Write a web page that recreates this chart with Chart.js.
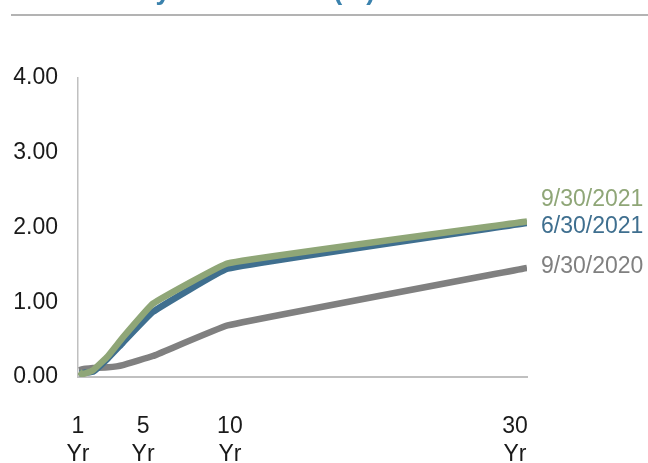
<!DOCTYPE html>
<html>
<head>
<meta charset="utf-8">
<script src="https://cdn.jsdelivr.net/npm/chart.js@4.4.0/dist/chart.umd.min.js"></script>
<style>
  body { margin: 0; background: #fff; }
  #wrap { position: relative; width: 648px; height: 463px; }
</style>
</head>
<body>
<div id="wrap"><canvas id="curveChart" width="648" height="463"></canvas></div>
<script>
// maturities in years (1m, 3m, 6m, 1y, 2y, 3y, 5y, 10y, 30y)
const maturities = [1 / 12, 0.25, 0.5, 1, 2, 3, 5, 10, 30];
const yields_2021_09 = [0.07, 0.04, 0.05, 0.09, 0.28, 0.53, 0.98, 1.52, 2.08];
const yields_2021_06 = [0.05, 0.05, 0.06, 0.07, 0.25, 0.46, 0.87, 1.45, 2.06];
const yields_2020_09 = [0.09, 0.10, 0.11, 0.12, 0.13, 0.16, 0.28, 0.69, 1.46];
const seriesNames = ['9/30/2021', '6/30/2021', '9/30/2020'];

// x labels as they sit under the axis
const xTickPositions = [0, 4.35, 10.15, 29.2];
const xTickLabels = [['1', 'Yr'], ['5', 'Yr'], ['10', 'Yr'], ['30', 'Yr']];
const yTicks = [0, 1, 2, 3, 4];

const titleText = 'Treasury Yield Curve (%)';
const FONT = "'Liberation Sans', Arial, sans-serif";

function toPoints(vals) {
    return maturities.map((m, i) => ({ x: m, y: vals[i] }));
}

// title (mostly cut off at the top) and the rule under it
const headerPlugin = {
    id: 'header',
    afterDraw(chart) {
        const ctx = chart.ctx;
        ctx.save();
        ctx.fillStyle = '#3b82ad';
        ctx.font = 'bold 27px ' + FONT;
        ctx.textBaseline = 'alphabetic';
        ctx.fillText(titleText, 58, -1);
        ctx.strokeStyle = '#b3b3b3';
        ctx.lineWidth = 2;
        ctx.beginPath();
        ctx.moveTo(11, 15);
        ctx.lineTo(648, 15);
        ctx.stroke();
        ctx.restore();
    }
};

// series names at the right end of each line
const endLabels = {
    id: 'endLabels',
    afterDatasetsDraw(chart) {
        const ctx = chart.ctx;
        ctx.save();
        ctx.font = '23px ' + FONT;
        ctx.textBaseline = 'middle';
        chart.data.datasets.forEach((ds, i) => {
            const meta = chart.getDatasetMeta(i);
            const last = meta.data[meta.data.length - 1];
            ctx.fillStyle = ds.borderColor;
            ctx.fillText(ds.label, chart.chartArea.right + 14, last.y + ds.labelShift);
        });
        ctx.restore();
    }
};

const ctx = document.getElementById('curveChart').getContext('2d');
new Chart(ctx, {
    type: 'line',
    data: {
        datasets: [
            { label: seriesNames[0], data: toPoints(yields_2021_09), borderColor: '#8fa677', labelShift: -22 },
            { label: seriesNames[1], data: toPoints(yields_2021_06), borderColor: '#3f6f8f', labelShift: 4 },
            { label: seriesNames[2], data: toPoints(yields_2020_09), borderColor: '#808080', labelShift: -1 }
        ].map(d => Object.assign(d, {
            borderWidth: 6.5,
            pointRadius: 0,
            tension: 0.08,
            fill: false,
            borderCapStyle: 'butt',
            borderJoinStyle: 'round'
        }))
    },
    options: {
        responsive: false,
        animation: false,
        layout: { padding: { top: 78, right: 121, left: 0, bottom: 0 } },
        plugins: {
            legend: { display: false },
            tooltip: { enabled: false }
        },
        scales: {
            x: {
                type: 'linear',
                min: 0,
                max: 30,
                afterBuildTicks: scale => { scale.ticks = xTickPositions.map(v => ({ value: v })); },
                afterFit: scale => { scale.height = 86; },
                ticks: {
                    autoSkip: false,
                    maxRotation: 0,
                    padding: 35,
                    color: '#1a1a1a',
                    font: { family: FONT, size: 23, lineHeight: 1.25 },
                    callback: (v, i) => xTickLabels[i]
                },
                grid: { display: false, drawTicks: false },
                border: { display: true, color: '#c0c0c0', width: 2 }
            },
            y: {
                min: 0,
                max: 4,
                afterBuildTicks: scale => { scale.ticks = yTicks.map(v => ({ value: v })); },
                afterFit: scale => { scale.width = 78; },
                ticks: {
                    padding: 20,
                    color: '#1a1a1a',
                    font: { family: FONT, size: 23 },
                    callback: v => v.toFixed(2)
                },
                grid: { display: false, drawTicks: false },
                border: { display: true, color: '#c0c0c0', width: 1.5 }
            }
        }
    },
    plugins: [headerPlugin, endLabels]
});
</script>
</body>
</html>
